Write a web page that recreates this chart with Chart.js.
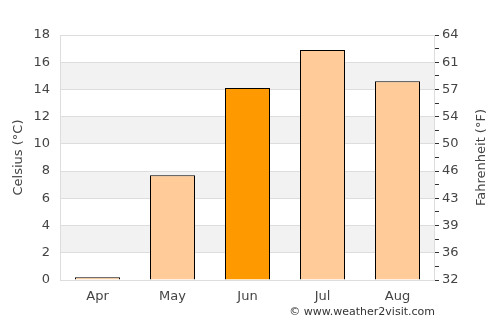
<!DOCTYPE html>
<html>
<head>
<meta charset="utf-8">
<script src="https://cdn.jsdelivr.net/npm/chart.js@4/dist/chart.umd.min.js"></script>
<style>
  html, body { margin: 0; padding: 0; background: #fff; }
  #wrap { position: relative; width: 500px; height: 325px; }
  #credit { position: absolute; right: 65px; top: 305px; font: 11px "DejaVu Sans", sans-serif; color: #333; }
</style>
</head>
<body>
<div id="wrap">
  <canvas id="chart" width="500" height="325"></canvas>
  <div id="credit">© www.weather2visit.com</div>
</div>
<script>
// monthly temperatures, Celsius
const months = ["Apr", "May", "Jun", "Jul", "Aug"];
const tempsC = [0.2, 7.7, 14.1, 16.9, 14.6];
const barColors = ["#ffcc99", "#ffcc99", "#ff9900", "#ffcc99", "#ffcc99"];
const yMin = 0, yMax = 18, yStep = 2;

const font = { family: "'DejaVu Sans', sans-serif", size: 13 };
const textColor = "#444";

// alternating grey bands plus the plot frame
const bands = {
  id: "bands",
  beforeDraw(chart) {
    const { ctx, chartArea: a, scales: { y } } = chart;
    ctx.save();
    ctx.fillStyle = "#f2f2f2";
    for (let v = yMin + yStep; v < yMax; v += yStep * 2) {
      const top = y.getPixelForValue(v + yStep);
      const bot = y.getPixelForValue(v);
      ctx.fillRect(a.left, top, a.right - a.left, bot - top);
    }
    ctx.restore();
  },
  afterDraw(chart) {
    const { ctx, chartArea: a } = chart;
    ctx.save();
    ctx.strokeStyle = "#dddddd";
    ctx.lineWidth = 1;
    ctx.strokeRect(a.left + 0.5, a.top + 0.5, a.right - a.left - 1, a.bottom - a.top);
    // right axis title, reads bottom to top
    ctx.translate(482, (a.top + a.bottom) / 2);
    ctx.rotate(-Math.PI / 2);
    ctx.fillStyle = textColor;
    ctx.font = "13px 'DejaVu Sans', sans-serif";
    ctx.textAlign = "center";
    ctx.textBaseline = "middle";
    ctx.fillText("Fahrenheit (°F)", 0, 0);
    ctx.restore();
  }
};

new Chart(document.getElementById("chart").getContext("2d"), {
  type: "bar",
  data: {
    labels: months,
    datasets: [{
      data: tempsC,
      backgroundColor: barColors,
      borderColor: "#000",
      borderWidth: 1,
      barPercentage: 0.6,
      categoryPercentage: 1.0,
      yAxisID: "y"
    }]
  },
  options: {
    responsive: false,
    animation: false,
    layout: { padding: { top: 35, left: 0, right: 0, bottom: 19 } },
    plugins: { legend: { display: false }, tooltip: { enabled: false } },
    scales: {
      x: {
        grid: { display: false, drawTicks: false },
        border: { display: false },
        ticks: { font: font, color: textColor, padding: 9 },
        afterFit(s) { s.height = 26; }
      },
      y: {
        position: "left",
        min: yMin, max: yMax,
        ticks: { stepSize: yStep, font: font, color: textColor, padding: 10 },
        grid: { color: "#dddddd", drawTicks: false },
        border: { display: false },
        title: { display: true, text: "Celsius (°C)", font: font, color: textColor, padding: { top: 11, bottom: 0 } },
        afterFit(s) { s.width = 60; }
      },
      y2: {
        position: "right",
        min: yMin, max: yMax,
        ticks: {
          stepSize: 1,
          autoSkip: false,
          font: font, color: textColor, padding: 3,
          callback: v => v % 2 === 0 ? String(Math.round(v * 9 / 5 + 32)) : ""
        },
        grid: { drawOnChartArea: false, drawTicks: true, tickLength: 4, color: "#333" },
        border: { display: false },
        afterFit(s) { s.width = 65; }
      }
    }
  },
  plugins: [bands]
});
</script>
</body>
</html>
